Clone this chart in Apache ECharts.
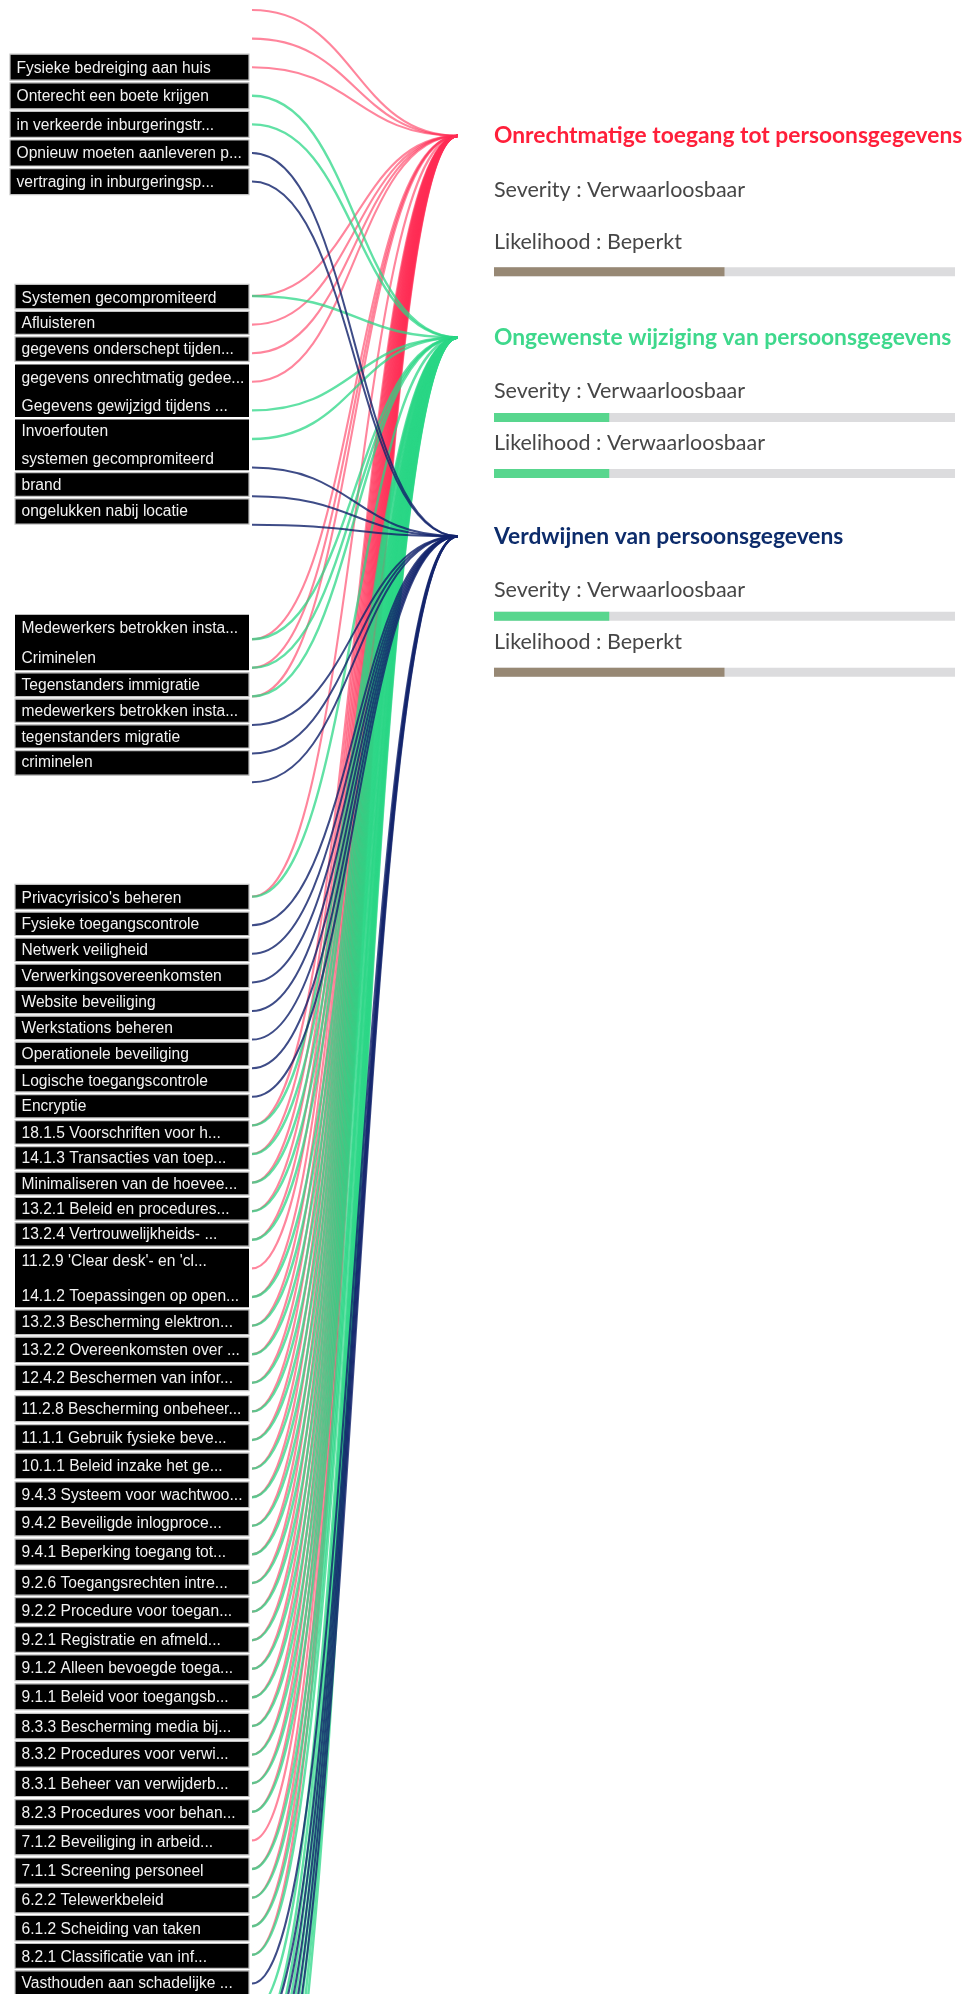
<!DOCTYPE html>
<html>
<head>
<meta charset="utf-8">
<script src="https://cdn.jsdelivr.net/npm/echarts@6/dist/echarts.min.js"></script>
<style>
html,body{margin:0;padding:0;background:#fff;}
#chart{width:966px;height:1994px;}
</style>
</head>
<body>
<div id="chart"></div>
<script>
// ---------- risks (targets) ----------
const targetNames = ['Onrechtmatige toegang tot persoonsgegevens', 'Ongewenste wijziging van persoonsgegevens', 'Verdwijnen van persoonsgegevens'];
const targetRows = [4.4, 11.45, 18.4];
const levelNames = ['', 'Verwaarloosbaar', 'Beperkt', 'Aanzienlijk', 'Maximaal'];
const severityLevels = [1, 1, 1];
const severityBarShown = [false, true, true];
const likelihoodLevels = [2, 1, 2];

// ---------- left column labels ----------
const threatLabels = ['Fysieke bedreiging aan huis', 'Onterecht een boete krijgen', 'in verkeerde inburgeringstr...', 'Opnieuw moeten aanleveren p...', 'vertraging in inburgeringsp...'];
const threatLabelRows = [2, 3, 4, 5, 6];

const causeLabels = ['Systemen gecompromiteerd', 'Afluisteren', 'gegevens onderschept tijden...', 'gegevens onrechtmatig gedee...', 'Gegevens gewijzigd tijdens ...', 'Invoerfouten', 'systemen gecompromiteerd', 'brand', 'ongelukken nabij locatie'];
const causeLabelRows = [10.05, 10.94, 11.83, 12.85, 13.83, 14.72, 15.69, 16.58, 17.52];

const actorLabels = ['Medewerkers betrokken insta...', 'Criminelen', 'Tegenstanders immigratie', 'medewerkers betrokken insta...', 'tegenstanders migratie', 'criminelen'];
const actorLabelRows = [21.6, 22.66, 23.6, 24.5, 25.4, 26.3];

const controlLabels = ["Privacyrisico's beheren", 'Fysieke toegangscontrole', 'Netwerk veiligheid', 'Verwerkingsovereenkomsten', 'Website beveiliging', 'Werkstations beheren', 'Operationele beveiliging', 'Logische toegangscontrole', 'Encryptie', '18.1.5 Voorschriften voor h...', '14.1.3 Transacties van toep...', 'Minimaliseren van de hoevee...', '13.2.1 Beleid en procedures...', '13.2.4 Vertrouwelijkheids- ...', "11.2.9 'Clear desk'- en 'cl...", '14.1.2 Toepassingen op open...', '13.2.3 Bescherming elektron...', '13.2.2 Overeenkomsten over ...', '12.4.2 Beschermen van infor...', '11.2.8 Bescherming onbeheer...', '11.1.1 Gebruik fysieke beve...', '10.1.1 Beleid inzake het ge...', '9.4.3 Systeem voor wachtwoo...', '9.4.2 Beveiligde inlogproce...', '9.4.1 Beperking toegang tot...', '9.2.6 Toegangsrechten intre...', '9.2.2 Procedure voor toegan...', '9.2.1 Registratie en afmeld...', '9.1.2 Alleen bevoegde toega...', '9.1.1 Beleid voor toegangsb...', '8.3.3 Bescherming media bij...', '8.3.2 Procedures voor verwi...', '8.3.1 Beheer van verwijderb...', '8.2.3 Procedures voor behan...', '7.1.2 Beveiliging in arbeid...', '7.1.1 Screening personeel', '6.2.2 Telewerkbeleid', '6.1.2 Scheiding van taken', '8.2.1 Classificatie van inf...', 'Vasthouden aan schadelijke ...'];
const controlLabelRows = [31.03, 31.96, 32.85, 33.78, 34.67, 35.60, 36.49, 37.43, 38.32, 39.25, 40.14, 41.03, 41.92, 42.80, 43.74, 44.94, 45.87, 46.85, 47.82, 48.90, 49.92, 50.90, 51.92, 52.90, 53.92, 54.98, 55.96, 56.98, 57.96, 58.98, 60.01, 60.98, 62.01, 63.03, 64.05, 65.07, 66.09, 67.07, 68.05, 68.98];

// ---------- link anchors (row of the line start) and the risks they feed ----------
// R = onrechtmatige toegang, G = ongewenste wijziging, B = verdwijnen
const threatLineRows = [0, 1, 2, 3, 4, 5, 6];
const threatLinks    = ['R', 'R', 'R', 'G', 'G', 'B', 'B'];
const causeLineRows  = [10, 11, 12, 13, 14, 15, 16, 17, 18];
const causeLinks     = ['RG', 'R', 'R', 'R', 'G', 'G', 'B', 'B', 'B'];
const actorLineRows  = [22, 23, 24, 25, 26, 27];
const actorLinks     = ['RG', 'RG', 'RG', 'B', 'B', 'B'];
const controlLineRows = [31, 32, 33, 34, 35, 36, 37, 38, 39, 40, 41, 42, 43, 44, 45, 46, 47, 48, 49, 50, 51, 52, 53, 54, 55, 56, 57, 58, 59, 60, 61, 62, 63, 64, 65, 66, 67, 68, 69, 70, 71, 72, 73, 74, 75, 76, 77, 78];
const controlLinks    = ['RG', 'B', 'B', 'B', 'B', 'B', 'B', 'B', 'RG', 'RG', 'RG', 'RG', 'RG', 'R', 'RG', 'RG', 'RG', 'RG', 'RG', 'RG', 'RG', 'RG', 'RG', 'RG', 'RG', 'RG', 'RG', 'RG', 'RG', 'RG', 'RG', 'RG', 'RG', 'R', 'RG', 'RG', 'RG', 'RG', 'B', 'G', 'GB', 'GB', 'GB', 'GB', 'GB', 'G', 'G', 'G'];

// ---------- styling ----------
const linkColors = { R: '#ff2d55', G: '#2ad686', B: '#13256d' };
const linkOpacity = { R: 0.58, G: 0.74, B: 0.82 };
const linkWidth = { R: 2.1, G: 2.4, B: 2.0 };
const linkTarget = { R: 0, G: 1, B: 2 };
const titleColors = ['#ff1f3a', '#3ed88c', '#0d2c6b'];
const levelColors = ['', '#58d68e', '#978874', '#978874', '#978874'];
const mergedWithNext = { cause: [3, 5], actor: [0], control: [14] };

// build link data per code
const linkData = { R: [], G: [], B: [] };
[[threatLineRows, threatLinks], [causeLineRows, causeLinks], [actorLineRows, actorLinks], [controlLineRows, controlLinks]].forEach(([rows, links]) => {
  rows.forEach((r, i) => {
    for (const c of links[i]) linkData[c].push([r, targetRows[linkTarget[c]]]);
  });
});

function linkSeries(code) {
  return {
    type: 'custom', xAxisIndex: 0, yAxisIndex: 0, clip: false, silent: true, z: 2,
    data: linkData[code],
    renderItem(params, api) {
      const s = api.coord([0, api.value(0)]);
      const t = api.coord([1, api.value(1)]);
      const mx = (s[0] + t[0]) / 2;
      return {
        type: 'bezierCurve',
        shape: { x1: s[0], y1: s[1], x2: t[0], y2: t[1], cpx1: mx, cpy1: s[1], cpx2: mx, cpy2: t[1] },
        style: { stroke: linkColors[code], fill: null, lineWidth: linkWidth[code], opacity: linkOpacity[code] }
      };
    }
  };
}

function labelSeries(labels, rows, boxLeft, merged) {
  return {
    type: 'custom', xAxisIndex: 0, yAxisIndex: 0, clip: false, silent: true, z: 5,
    data: rows.map(r => [0, r]),
    renderItem(params, api) {
      const i = params.dataIndex;
      const p = api.coord([0, rows[i]]);
      const rowPx = api.size([0, 1])[1];
      const up = Math.min(i > 0 ? rows[i] - rows[i - 1] : 1, 1) * rowPx / 2;
      const down = Math.min(i < rows.length - 1 ? rows[i + 1] - rows[i] : 1, 1) * rowPx / 2;
      const top = merged.includes(i - 1) ? api.coord([0, rows[i - 1]])[1] : p[1] - up + 1.3;
      const bottom = merged.includes(i) ? api.coord([0, rows[i + 1]])[1] : p[1] + down - 1.3;
      const right = p[0] - 3;
      const isMerged = merged.includes(i) || merged.includes(i - 1);
      return {
        type: 'group',
        children: [
          { type: 'rect', shape: { x: boxLeft, y: top, width: right - boxLeft, height: bottom - top },
            style: { fill: '#000', stroke: isMerged ? null : '#c2c2c2', lineWidth: 1.2 } },
          { type: 'text', x: boxLeft + 6.5, y: p[1] + 1, z2: 2,
            style: { text: labels[i], fill: '#f2f2f2', font: '15.6px "Liberation Sans", Arial, sans-serif', verticalAlign: 'middle', align: 'left' } }
        ]
      };
    }
  };
}

const panelSeries = {
  type: 'custom', xAxisIndex: 1, yAxisIndex: 1, clip: false, silent: true, z: 6,
  data: targetRows.map(r => [0, r]),
  renderItem(params, api) {
    const i = params.dataIndex;
    const row = targetRows[i];
    const p = api.coord([0, row]);
    const end = api.coord([4, row])[0];
    const kids = [];
    const bodyFont = '21.5px Lato, "Noto Sans", sans-serif';
    kids.push({ type: 'text', x: p[0], y: p[1], style: { text: targetNames[i], fill: titleColors[i], font: 'bold 22.8px Lato, "Noto Sans", sans-serif', verticalAlign: 'middle', align: 'left' } });
    kids.push({ type: 'text', x: p[0], y: p[1] + 54, style: { text: 'Severity : ' + levelNames[severityLevels[i]], fill: '#464646', font: bodyFont, verticalAlign: 'middle', align: 'left' } });
    const bar = (yc, level) => {
      const fx = api.coord([level, row])[0];
      kids.push({ type: 'rect', shape: { x: p[0], y: yc - 4.5, width: end - p[0], height: 9 }, style: { fill: '#dcdcde' } });
      kids.push({ type: 'rect', shape: { x: p[0], y: yc - 4.5, width: fx - p[0], height: 9 }, style: { fill: levelColors[level] } });
    };
    if (severityBarShown[i]) bar(p[1] + 80, severityLevels[i]);
    kids.push({ type: 'text', x: p[0], y: p[1] + 106, style: { text: 'Likelihood : ' + levelNames[likelihoodLevels[i]], fill: '#464646', font: bodyFont, verticalAlign: 'middle', align: 'left' } });
    bar(p[1] + 136, likelihoodLevels[i]);
    return { type: 'group', children: kids };
  }
};

const chart = echarts.init(document.getElementById('chart'), null, { renderer: 'canvas' });
chart.setOption({
  animation: false,
  backgroundColor: '#fff',
  grid: [
    { left: 252, right: 508, top: 10, bottom: 10.6 },
    { left: 494, right: 11, top: 10, bottom: 10.6 }
  ],
  xAxis: [
    { type: 'value', gridIndex: 0, min: 0, max: 1, show: false },
    { type: 'value', gridIndex: 1, min: 0, max: 4, show: false }
  ],
  yAxis: [
    { type: 'value', gridIndex: 0, min: 0, max: 69, inverse: true, show: false },
    { type: 'value', gridIndex: 1, min: 0, max: 69, inverse: true, show: false }
  ],
  series: [
    linkSeries('R'),
    linkSeries('G'),
    linkSeries('B'),
    labelSeries(threatLabels, threatLabelRows, 10, []),
    labelSeries(causeLabels, causeLabelRows, 15, mergedWithNext.cause),
    labelSeries(actorLabels, actorLabelRows, 15, mergedWithNext.actor),
    labelSeries(controlLabels, controlLabelRows, 15, mergedWithNext.control),
    panelSeries
  ]
});
</script>
</body>
</html>
